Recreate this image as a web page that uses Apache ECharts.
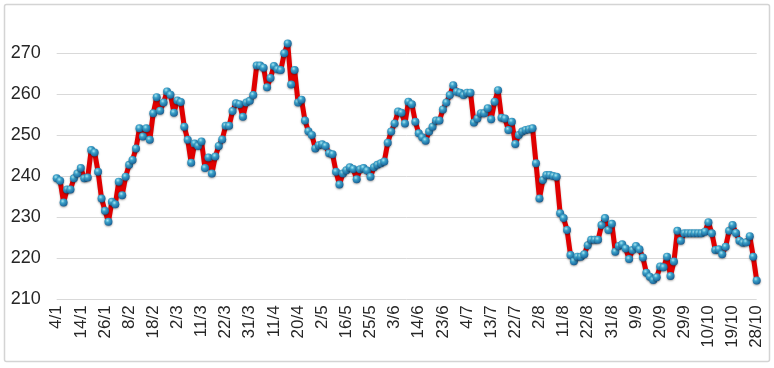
<!DOCTYPE html>
<html>
<head>
<meta charset="utf-8">
<script src="https://cdn.jsdelivr.net/npm/echarts@6/dist/echarts.min.js"></script>
<style>
html,body{margin:0;padding:0;background:#fff;}
#chart{width:774px;height:368px;}
</style>
</head>
<body>
<div id="chart"></div>
<script>
// Tick labels shown on the x axis (one every 7 trading days)
var tickLabels = ['4/1','14/1','26/1','8/2','18/2','2/3','11/3','22/3','31/3','11/4','20/4','2/5','16/5','25/5','3/6','14/6','23/6','4/7','13/7','22/7','2/8','11/8','22/8','31/8','9/9','20/9','29/9','10/10','19/10','28/10'];
var labelEvery = 7;

// Daily values
var values = [
239.5,238.9,233.6,236.8,236.8,239.5,240.7,242,239.5,239.7,
246.4,245.8,241.1,234.6,231.6,228.9,233.8,233.2,238.7,235.4,
239.9,242.8,244,246.8,251.7,249.7,251.7,248.9,255.4,259.3,
256,258,260.7,259.9,255.5,258.5,258.1,252.1,248.9,243.3,
248,247.4,248.5,242,244.6,240.7,244.8,247.4,249,252.3,
252.3,255.9,257.8,257.6,254.5,258,258.4,259.8,267,267,
266.5,261.7,264,266.9,266.1,265.9,270,272.4,262.4,265.9,
258,258.7,253.6,251,250.1,246.8,247.6,247.8,247.4,245.6,
245.4,241.1,238,240.7,241.5,242.2,241.8,239.3,241.7,242,
241.4,239.9,242.2,242.8,243.2,243.6,248.2,250.9,252.9,255.8,
255.5,252.9,258.2,257.6,253.3,250.5,249.5,248.7,250.9,252.1,
253.6,253.6,256.3,258,259.8,262.2,260.6,260.4,259.8,260.4,
260.4,253.1,254.1,255.4,255.4,256.6,253.9,258.2,261,254.3,
254.1,251.3,253.3,247.9,250.1,250.9,251.3,251.5,251.7,243.2,
234.6,239.1,240.3,240.3,240.1,239.9,231,229.8,226.9,220.8,
219.3,220.4,220.4,221,223.2,224.5,224.5,224.5,228.1,229.8,
226.9,228.4,221.6,223,223.4,222.4,219.8,222,223,222.2,
220.2,216.5,215.5,214.7,215.4,218,217.8,220.4,215.7,219.2,
226.7,224.3,226.1,226.1,226.1,226.1,226.1,226.1,226.5,228.8,
226.1,222,222.2,221,222.8,226.7,228.1,226.2,224.3,223.8,
223.9,225.4,220.4,214.6
];

var yTicks = [210,220,230,240,250,260,270];

var categories = values.map(function(_, i){ return String(i); });

var chart = echarts.init(document.getElementById('chart'), null, {renderer:'canvas'});
chart.setOption({
  animation:false,
  backgroundColor:'#ffffff',
  graphic:[{
    type:'rect',
    shape:{x:4.5,y:4.5,width:765,height:357,r:2},
    style:{fill:'none',stroke:'#d4d4d4',lineWidth:1.5},
    silent:true,z:-1
  }],
  grid:{left:56.7,right:17.3,top:53.3,bottom:68.7,containLabel:false},
  xAxis:{
    type:'category',
    data:categories,
    boundaryGap:false,
    axisLine:{show:false},
    axisTick:{show:false},
    splitLine:{show:false},
    axisLabel:{
      interval:labelEvery-1,
      rotate:90,
      margin:6,
      color:'#262626',
      fontFamily:'Liberation Sans, Arial, sans-serif',
      fontSize:17,
      formatter:function(v, idx){ return tickLabels[Math.round(idx/labelEvery)] || ''; }
    }
  },
  yAxis:{
    type:'value',
    min:yTicks[0],
    max:yTicks[yTicks.length-1],
    interval:10,
    axisLine:{show:false},
    axisTick:{show:false},
    splitLine:{lineStyle:{color:'#d9d9d9',width:1}},
    axisLabel:{
      margin:16,
      color:'#262626',
      fontFamily:'Liberation Sans, Arial, sans-serif',
      fontSize:18
    }
  },
  series:[{
    type:'line',
    data:values,
    clip:false,
    symbol:'circle',
    symbolSize:8,
    showAllSymbol:true,
    lineStyle:{color:'#e00000',width:5,shadowColor:'rgba(0,0,0,0.25)',shadowBlur:2,shadowOffsetY:1},
    itemStyle:{
      color:{type:'radial',x:0.38,y:0.32,r:0.75,colorStops:[
        {offset:0,color:'#a8e6f2'},
        {offset:0.35,color:'#3aa0c8'},
        {offset:0.8,color:'#1f6fa3'},
        {offset:1,color:'#17507e'}
      ]},
      borderWidth:0,
      shadowColor:'rgba(0,0,0,0.35)',
      shadowBlur:2,
      shadowOffsetY:1
    }
  }]
});
</script>
</body>
</html>
